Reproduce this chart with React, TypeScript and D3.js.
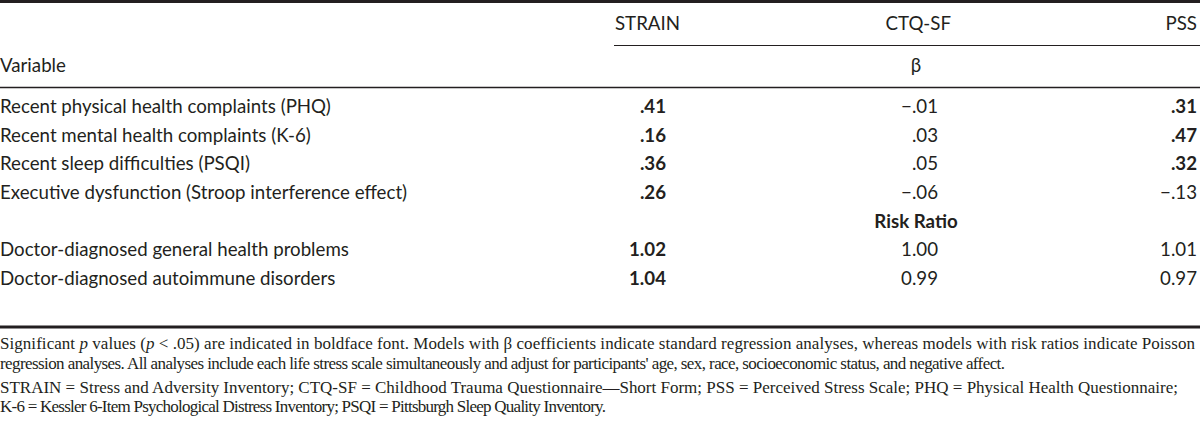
import React from 'react';
import * as d3 from 'd3';

const columns = ['STRAIN', 'CTQ-SF', 'PSS'];
const variables = [
  'Recent physical health complaints (PHQ)',
  'Recent mental health complaints (K-6)',
  'Recent sleep difficulties (PSQI)',
  'Executive dysfunction (Stroop interference effect)',
  'Doctor-diagnosed general health problems',
  'Doctor-diagnosed autoimmune disorders',
];
// row slot for each variable (slot 4 holds the "Risk Ratio" label)
const rowSlots = [0, 1, 2, 3, 5, 6];
const strainValues = ['.41', '.16', '.36', '.26', '1.02', '1.04'];
const ctqValues = ['\u2212.01', '.03', '.05', '\u2212.06', '1.00', '0.99'];
const pssValues = ['.31', '.47', '.32', '\u2212.13', '1.01', '0.97'];
const strainBold = [true, true, true, true, true, true];
const ctqBold = [false, false, false, false, false, false];
const pssBold = [true, true, true, false, false, false];
const footnotes = [
  ['Significant ', 'p', ' values (', 'p', ' < .05) are indicated in boldface font. Models with \u03b2 coefficients indicate standard regression analyses, whereas models with risk ratios indicate Poisson'],
  ['regression analyses. All analyses include each life stress scale simultaneously and adjust for participants\' age, sex, race, socioeconomic status, and negative affect.'],
  ['STRAIN = Stress and Adversity Inventory; CTQ-SF = Childhood Trauma Questionnaire\u2014Short Form; PSS = Perceived Stress Scale; PHQ = Physical Health Questionnaire;'],
  ['K-6 = Kessler 6-Item Psychological Distress Inventory; PSQI = Pittsburgh Sleep Quality Inventory.'],
];
// printed width of each footnote line in the reference
const footWidths = [1195, 1005, 1178, 606];

const W = 1200;
const H = 422;
const ink = '#231f20';
const sans = 'Lato, "Open Sans", sans-serif';
const serif = '"Liberation Serif", "Times New Roman", serif';
const fs = 18.7;

const App = () => {
  // baselines of the body rows
  const y = d3.scaleLinear().domain([0, 6]).range([113, 285]);
  const colRight = d3.scaleOrdinal<string, number>().domain(columns).range([666, 938, 1197]);
  const headRight = d3.scaleOrdinal<string, number>().domain(columns).range([680, 951, 1197]);
  const midCol = 916;
  const series = [
    { key: 'STRAIN', vals: strainValues, bold: strainBold },
    { key: 'CTQ-SF', vals: ctqValues, bold: ctqBold },
    { key: 'PSS', vals: pssValues, bold: pssBold },
  ];
  const footY = d3.scaleOrdinal<number, number>().domain([0, 1, 2, 3]).range([349, 369, 393, 412]);

  return (
    <svg
      width={W}
      height={H}
      style={{ position: 'absolute', left: 0, top: 0, background: '#fff' }}
      fontFamily={sans}
      fill={ink}
    >
      <rect width={W} height={H} fill="#fff" />
      <line x1={0} x2={W} y1={1.5} y2={1.5} stroke={ink} strokeWidth={3} />
      {columns.map((c) => (
        <text key={c} x={headRight(c)} y={30} textAnchor="end" fontSize={fs}>
          {c}
        </text>
      ))}
      <line x1={614} x2={W} y1={45.5} y2={45.5} stroke={ink} strokeWidth={1.2} />
      <text x={0} y={72} fontSize={fs}>Variable</text>
      <text x={midCol} y={72} textAnchor="middle" fontSize={fs}>{'\u03b2'}</text>
      <line x1={0} x2={W} y1={87.5} y2={87.5} stroke={ink} strokeWidth={1.5} />

      {variables.map((v, i) => (
        <text key={v} x={0} y={y(rowSlots[i])} fontSize={fs}>
          {v}
        </text>
      ))}
      <text x={midCol} y={y(4)} textAnchor="middle" fontSize={fs} fontWeight="bold">
        Risk Ratio
      </text>
      {series.map((s) =>
        s.vals.map((val, i) => (
          <text
            key={s.key + i}
            x={colRight(s.key)}
            y={y(rowSlots[i])}
            textAnchor="end"
            fontSize={fs}
            fontWeight={s.bold[i] ? 'bold' : 'normal'}
          >
            {val}
          </text>
        ))
      )}

      <line x1={0} x2={W} y1={327} y2={327} stroke={ink} strokeWidth={3} />
      {footnotes.map((parts, i) => (
        <text
          key={i}
          x={0}
          y={footY(i)}
          fontFamily={serif}
          fontSize={17}
          textLength={footWidths[i]}
          lengthAdjust="spacing"
        >
          {parts.map((p, j) => (
            <tspan key={j} fontStyle={p === 'p' ? 'italic' : 'normal'}>
              {p}
            </tspan>
          ))}
        </text>
      ))}
    </svg>
  );
};

export default App;
